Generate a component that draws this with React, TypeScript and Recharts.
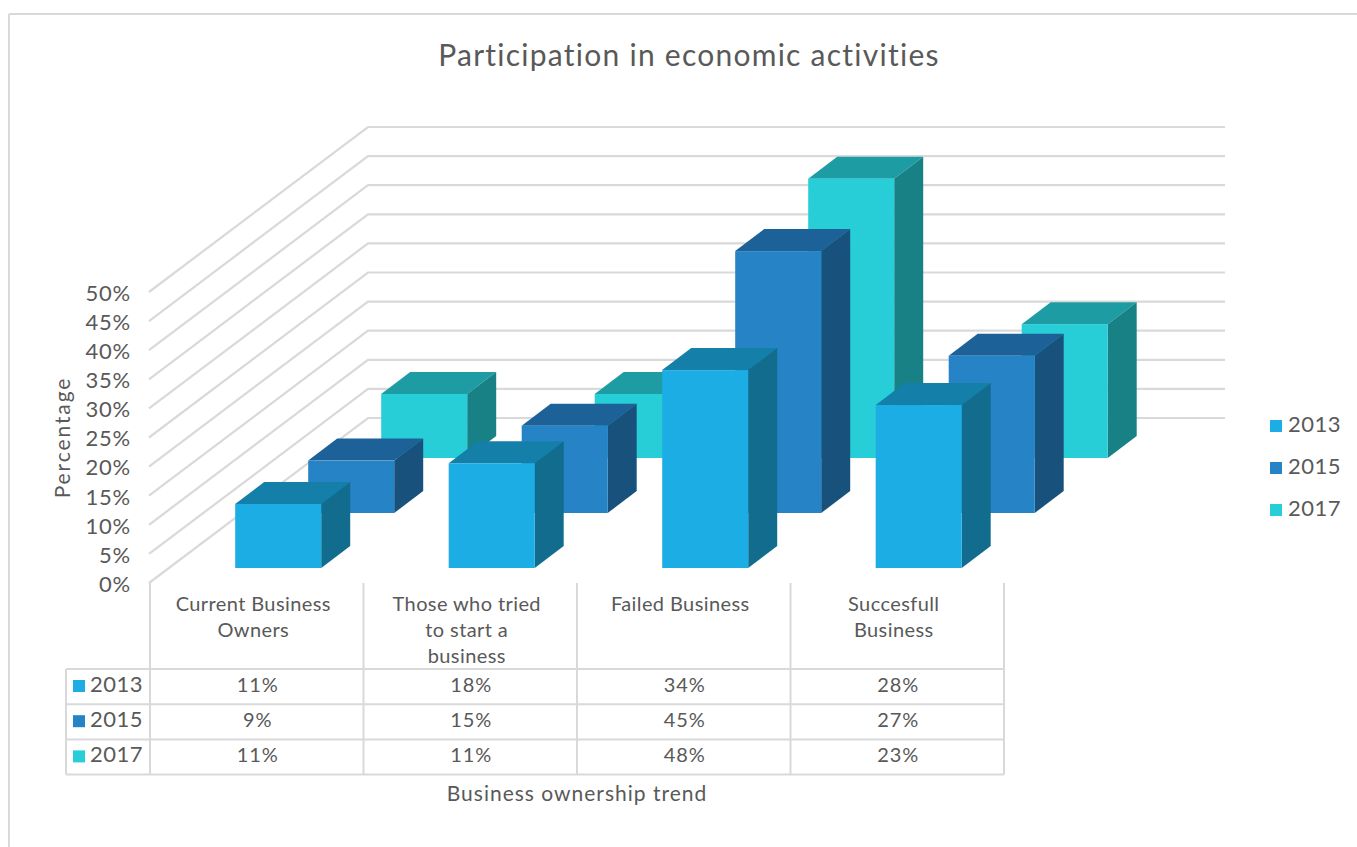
import React from 'react';
import { BarChart, Bar, XAxis, YAxis, CartesianGrid, Legend } from 'recharts';

const categories = ['Current Business Owners', 'Those who tried to start a business', 'Failed Business', 'Succesfull Business'];
const categoryLines = [
    ['Current Business', 'Owners'],
    ['Those who tried', 'to start a', 'business'],
    ['Failed Business'],
    ['Succesfull', 'Business'],
];
const years = ['2013', '2015', '2017'];
const values2013 = [11, 18, 34, 28];
const values2015 = [9, 15, 45, 27];
const values2017 = [11, 11, 48, 23];
const yTicks = [0, 5, 10, 15, 20, 25, 30, 35, 40, 45, 50];

const rows = [values2013, values2015, values2017];
const chartData = categories.map((name, i) => ({
    name,
    v2013: values2013[i],
    v2015: values2015[i],
    v2017: values2017[i],
}));

const FONT = 'Lato, sans-serif';
const TEXT = '#595959';
const GRID = '#d9d9d9';

const PLOT_LEFT = 150;
const PLOT_TOP = 292;
const PLOT_RIGHT = 1004;
const PLOT_BOTTOM = 583;
const BAND = (PLOT_RIGHT - PLOT_LEFT) / categories.length;

// floor depth of the back wall and the slot each series sits in
const WALL_DX = 218;
const WALL_DY = 165;
const WALL_RIGHT = 1225;
const SLOT_DX = 73;
const SLOT_DY = 55;
const BOX_DX = 29;
const BOX_DY = 22;

const palette = {
    '2013': { front: '#1cade4', top: '#1480a9', side: '#116c8e' },
    '2015': { front: '#2683c6', top: '#1c6197', side: '#18527c' },
    '2017': { front: '#27ced7', top: '#1d9da3', side: '#188186' },
};

const ROW_TOP = 669;
const ROW_H = 35.2;
const TABLE_LEFT = 66;

function cuboid(slot: number, colors: { front: string; top: string; side: string }) {
    return (props: any) => {
        const x = props.x + 21.2 + slot * SLOT_DX;
        const y = props.y - 15 - slot * SLOT_DY;
        const w = props.width;
        const h = props.height;
        return (
            <g>
                <polygon
                    points={`${x},${y} ${x + BOX_DX},${y - BOX_DY} ${x + w + BOX_DX},${y - BOX_DY} ${x + w},${y}`}
                    fill={colors.top}
                />
                <polygon
                    points={`${x + w},${y} ${x + w + BOX_DX},${y - BOX_DY} ${x + w + BOX_DX},${y + h - BOX_DY} ${x + w},${y + h}`}
                    fill={colors.side}
                />
                <rect x={x} y={y} width={w} height={h} fill={colors.front} />
            </g>
        );
    };
}

// gridline runs up the side wall, then along the back wall
function wallLine(props: any) {
    const { x1, y1, key } = props;
    const backY = y1 - WALL_DY;
    return (
        <polyline
            key={key ?? y1}
            points={`${x1 - 1},${y1} ${x1 + WALL_DX},${backY} ${WALL_RIGHT},${backY}`}
            fill="none"
            stroke={GRID}
            strokeWidth={2.2}
        />
    );
}

// category label plus its column of the data table
function tableTick(props: any) {
    const { x, index } = props;
    return (
        <g fontFamily={FONT} fontSize={20} fill={TEXT} textAnchor="middle">
            {categoryLines[index].map((line, i) => (
                <text key={line} x={x - 3.5} y={611 + i * 26} letterSpacing={0.4}>
                    {line}
                </text>
            ))}
            {rows.map((row, r) => (
                <text key={years[r]} x={x + 1} y={ROW_TOP + 23 + r * ROW_H} letterSpacing={0.9}>
                    {row[index]}%
                </text>
            ))}
        </g>
    );
}

function TableFrame() {
    const edges = categories.map((_, i) => PLOT_LEFT + i * BAND).concat(PLOT_RIGHT);
    return (
        <g stroke={GRID} strokeWidth={2}>
            {edges.map((ex) => (
                <line key={ex} x1={ex} x2={ex} y1={PLOT_BOTTOM} y2={ROW_TOP + 3 * ROW_H} />
            ))}
            <line x1={TABLE_LEFT} x2={TABLE_LEFT} y1={ROW_TOP} y2={ROW_TOP + 3 * ROW_H} />
            {[0, 1, 2, 3].map((r) => (
                <line key={r} x1={TABLE_LEFT} x2={PLOT_RIGHT} y1={ROW_TOP + r * ROW_H} y2={ROW_TOP + r * ROW_H} />
            ))}
            {years.map((year, r) => (
                <g key={year} stroke="none">
                    <rect x={73} y={ROW_TOP + 11 + r * ROW_H} width={12} height={12} fill={palette[year].front} />
                    <text x={90} y={ROW_TOP + 23 + r * ROW_H} fontFamily={FONT} fontSize={22} fill={TEXT} letterSpacing={0.5}>
                        {year}
                    </text>
                </g>
            ))}
        </g>
    );
}

export default function App() {
    return (
        <div style={{ position: 'absolute', left: 0, top: 0, width: 1357, height: 847, background: '#fff', overflow: 'hidden' }}>
            <BarChart
                width={1357}
                height={847}
                data={chartData}
                barSize={86}
                barGap={-86}
                barCategoryGap={0}
                margin={{ top: PLOT_TOP, right: 1357 - PLOT_RIGHT, bottom: 64, left: PLOT_LEFT - 60 }}
            >
                <line x1={9} x2={1357} y1={14} y2={14} stroke={GRID} strokeWidth={2} />
                <line x1={9} x2={9} y1={14} y2={847} stroke={GRID} strokeWidth={2} />
                <text x={689} y={66} textAnchor="middle" fontFamily={FONT} fontSize={30} fill={TEXT} letterSpacing={1.25}>
                    Participation in economic activities
                </text>
                <CartesianGrid vertical={false} horizontal={wallLine} />
                <XAxis
                    dataKey="name"
                    height={200}
                    interval={0}
                    axisLine={false}
                    tickLine={false}
                    tick={tableTick}
                    label={{
                        value: 'Business ownership trend',
                        position: 'insideBottom',
                        offset: -18,
                        fontFamily: FONT,
                        fontSize: 21,
                        fill: TEXT,
                        letterSpacing: 1,
                    }}
                />
                <YAxis
                    width={60}
                    domain={[0, 50]}
                    ticks={yTicks}
                    interval={0}
                    tickFormatter={(v) => `${v}%`}
                    axisLine={false}
                    tickLine={false}
                    tickSize={0}
                    tickMargin={19}
                    tick={{ fontFamily: FONT, fontSize: 22, fill: TEXT, letterSpacing: 0.8, dy: 1 }}
                    label={{
                        value: 'Percentage',
                        angle: -90,
                        position: 'insideLeft',
                        offset: -27,
                        style: { textAnchor: 'middle' },
                        fontFamily: FONT,
                        fontSize: 21,
                        fill: TEXT,
                        letterSpacing: 1.9,
                    }}
                />
                <Bar dataKey="v2017" name="2017" fill={palette['2017'].front} shape={cuboid(2, palette['2017'])} isAnimationActive={false} />
                <Bar dataKey="v2015" name="2015" fill={palette['2015'].front} shape={cuboid(1, palette['2015'])} isAnimationActive={false} />
                <Bar dataKey="v2013" name="2013" fill={palette['2013'].front} shape={cuboid(0, palette['2013'])} isAnimationActive={false} />
                <TableFrame />
                <Legend
                    layout="vertical"
                    align="center"
                    verticalAlign="middle"
                    iconType="square"
                    iconSize={12}
                    formatter={(value) => <span style={{ color: TEXT, marginLeft: 2 }}>{value}</span>}
                    wrapperStyle={{ left: 1270, top: 403, width: 87, fontFamily: FONT, fontSize: 22, letterSpacing: 0.5, lineHeight: '42px' }}
                />
            </BarChart>
        </div>
    );
}
